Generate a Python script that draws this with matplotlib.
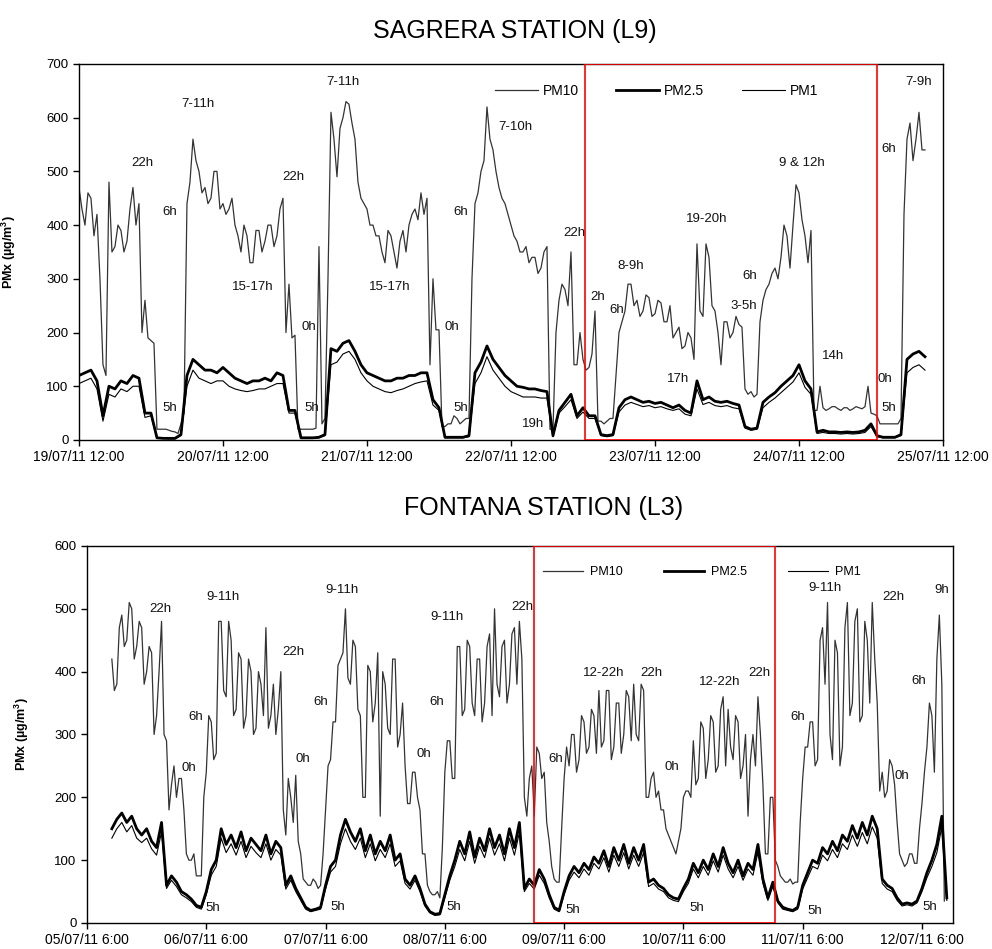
import numpy as np
import pandas as pd
import matplotlib
matplotlib.use('Agg')
import matplotlib.pyplot as plt
import matplotlib.dates as mdates
from matplotlib.lines import Line2D

plt.rcParams['font.family'] = ['Liberation Sans', 'DejaVu Sans']
plt.rcParams['mathtext.default'] = 'regular'

# ---- Sagrera station (L9), from 19/07/11 12:00 ----
sag_start = '2011-07-19 12:00'
# PM10 every 30 min
sag_pm10 = [470, 430, 400, 460, 450, 380, 420, 300, 140, 120, 480, 350,
            360, 400, 390, 350, 370, 430, 470, 400, 440, 200, 260, 190,
            185, 180, 20, 20, 20, 20, 18, 16, 15, 12, 30, 50,
            440, 480, 560, 520, 500, 460, 470, 440, 450, 500, 500, 430,
            440, 420, 430, 450, 400, 380, 350, 400, 380, 330, 330, 390,
            390, 350, 370, 400, 400, 360, 380, 430, 450, 200, 290, 190,
            195, 20, 20, 20, 20, 20, 20, 22, 360, 30, 40, 300,
            610, 560, 490, 580, 600, 630, 625, 590, 560, 480, 450, 440,
            430, 400, 400, 380, 380, 350, 330, 390, 380, 350, 320, 370,
            390, 350, 400, 420, 430, 410, 460, 420, 450, 140, 300, 205,
            205, 25, 25, 30, 30, 45, 40, 30, 35, 40, 40, 300,
            440, 460, 500, 520, 620, 560, 540, 500, 470, 450, 440, 420,
            400, 380, 370, 350, 350, 360, 330, 340, 340, 310, 320, 350,
            360, 20, 20, 200, 260, 290, 280, 250, 350, 140, 140, 200,
            150, 130, 135, 160, 240, 35, 35, 30, 35, 40, 40, 120,
            200, 220, 240, 290, 290, 250, 260, 230, 240, 270, 265, 230,
            235, 260, 255, 220, 220, 250, 190, 200, 210, 170, 175, 200,
            190, 150, 365, 240, 230, 365, 340, 250, 240, 200, 140, 220,
            220, 190, 200, 230, 215, 210, 95, 85, 90, 80, 85, 220,
            260, 280, 290, 310, 320, 300, 340, 400, 380, 320, 400, 475,
            460, 410, 380, 330, 390, 55, 55, 100, 60, 55, 58, 62,
            62, 58, 55, 60, 60, 55, 58, 62, 60, 58, 62, 100,
            50, 48, 45, 30, 30, 30, 30, 30, 30, 30, 40, 420,
            560, 590, 520, 560, 610, 540, 540]
# PM2.5 and PM1 hourly
sag_pm25 = [120, 125, 130, 110, 45, 100, 95, 110, 105, 120, 115, 50,
            50, 4, 3, 3, 3, 10, 120, 150, 140, 130, 130, 125,
            135, 125, 115, 110, 105, 110, 110, 115, 110, 125, 120, 55,
            55, 4, 4, 4, 5, 10, 170, 165, 180, 185, 165, 140,
            125, 120, 115, 110, 110, 115, 115, 120, 120, 125, 125, 75,
            60, 5, 5, 5, 5, 8, 125, 145, 175, 150, 135, 120,
            110, 100, 98, 95, 95, 92, 90, 8, 55, 70, 85, 45,
            60, 45, 45, 10, 8, 10, 60, 75, 80, 75, 70, 72,
            68, 70, 65, 60, 65, 55, 50, 110, 75, 80, 72, 70,
            72, 68, 65, 25, 20, 22, 70, 80, 88, 100, 110, 120,
            140, 110, 95, 15, 18, 15, 15, 14, 15, 14, 15, 18,
            30, 8, 5, 5, 5, 10, 150, 160, 165, 155]
sag_pm1 = [105, 110, 115, 95, 35, 85, 80, 95, 90, 100, 100, 42,
           45, 3, 3, 2, 2, 8, 100, 130, 115, 110, 105, 110,
           110, 100, 95, 92, 90, 92, 95, 95, 100, 105, 105, 50,
           50, 3, 3, 3, 4, 8, 140, 145, 160, 165, 150, 125,
           110, 100, 95, 90, 88, 92, 95, 100, 105, 108, 110, 65,
           55, 4, 4, 4, 4, 6, 105, 125, 155, 130, 115, 100,
           90, 85, 80, 80, 80, 78, 78, 6, 50, 62, 75, 40,
           52, 40, 40, 8, 6, 8, 52, 65, 70, 66, 62, 64,
           60, 62, 58, 55, 58, 48, 45, 95, 66, 70, 64, 62,
           64, 60, 58, 22, 18, 20, 60, 70, 78, 88, 98, 108,
           125, 98, 85, 12, 14, 12, 12, 11, 12, 11, 12, 14,
           25, 6, 4, 4, 4, 8, 125, 135, 140, 130]

# ---- Fontana station (L3), from 05/07/11 11:00 ----
fon_start = '2011-07-05 11:00'
# PM10 every 30 min
fon_pm10 = [420, 370, 380, 470, 490, 440, 450, 510, 500, 420, 440, 480,
            470, 380, 400, 440, 430, 300, 330, 400, 480, 300, 290, 180,
            220, 250, 200, 230, 230, 180, 110, 100, 100, 110, 75, 75,
            75, 200, 240, 330, 320, 260, 270, 480, 480, 370, 360, 480,
            450, 330, 340, 430, 420, 310, 330, 420, 400, 300, 310, 400,
            380, 330, 470, 310, 330, 380, 300, 340, 400, 180, 140, 230,
            200, 160, 235, 130, 110, 70, 65, 60, 60, 70, 65, 55,
            60, 110, 180, 250, 260, 320, 320, 410, 420, 430, 500, 390,
            380, 450, 440, 340, 330, 200, 200, 410, 400, 320, 350, 430,
            170, 400, 380, 310, 300, 420, 420, 280, 300, 350, 250, 190,
            190, 240, 240, 200, 180, 110, 110, 60, 50, 45, 45, 50,
            40, 120, 240, 290, 290, 230, 230, 440, 440, 330, 340, 450,
            440, 350, 330, 420, 420, 320, 350, 440, 460, 330, 500, 380,
            360, 440, 450, 350, 380, 460, 470, 380, 480, 420, 200, 170,
            230, 250, 170, 280, 270, 230, 240, 160, 130, 90, 70, 65,
            65, 150, 230, 280, 250, 300, 300, 240, 260, 330, 320, 270,
            280, 340, 330, 270, 370, 280, 290, 370, 370, 260, 280, 350,
            350, 270, 300, 370, 360, 290, 380, 300, 290, 380, 370, 200,
            200, 230, 240, 200, 210, 180, 180, 150, 140, 130, 120, 110,
            130, 150, 200, 210, 210, 200, 290, 220, 230, 320, 310, 230,
            260, 330, 320, 240, 250, 340, 360, 250, 340, 280, 260, 330,
            320, 230, 250, 300, 170, 260, 300, 250, 360, 300, 220, 110,
            110, 200, 200, 100, 90, 75, 70, 65, 65, 70, 62, 65,
            65, 160, 230, 280, 280, 320, 320, 250, 260, 450, 470, 380,
            510, 300, 260, 450, 430, 250, 280, 470, 510, 330, 350, 480,
            500, 320, 330, 480, 450, 350, 510, 420, 350, 210, 240, 200,
            210, 260, 250, 220, 160, 110, 100, 90, 95, 110, 110, 95,
            95, 150, 190, 240, 280, 350, 330, 240, 420, 490, 380, 35]
# PM2.5 and PM1 hourly
fon_pm25 = [150, 165, 175, 160, 170, 150, 140, 150, 130, 120, 160, 60,
            75, 65, 50, 45, 38, 28, 25, 50, 85, 100, 150, 125,
            140, 120, 145, 115, 135, 125, 115, 140, 110, 130, 120, 60,
            75, 55, 40, 25, 20, 22, 25, 60, 90, 100, 140, 165,
            145, 130, 150, 115, 140, 110, 130, 115, 140, 100, 110, 70,
            60, 75, 55, 30, 18, 14, 15, 45, 75, 100, 130, 110,
            145, 105, 135, 115, 150, 120, 140, 110, 150, 120, 160, 55,
            70, 60, 85, 70, 45, 25, 20, 50, 75, 90, 80, 95,
            85, 105, 95, 115, 90, 120, 100, 125, 95, 120, 100, 125,
            65, 70, 60, 55, 45, 40, 38, 55, 70, 95, 80, 100,
            85, 110, 90, 120, 95, 80, 100, 75, 95, 85, 125, 70,
            40, 65, 35, 25, 22, 20, 25, 60, 80, 100, 95, 120,
            110, 130, 115, 140, 130, 155, 135, 160, 140, 170, 150, 70,
            60, 55, 40, 30, 32, 30, 35, 55, 80, 100, 125, 170,
            40]
fon_pm1 = [135, 150, 160, 145, 155, 135, 128, 135, 118, 108, 145, 55,
           68, 58, 45, 40, 34, 25, 22, 45, 76, 90, 135, 112,
           126, 108, 130, 104, 122, 112, 104, 126, 100, 117, 108, 54,
           68, 50, 36, 22, 18, 20, 22, 54, 81, 90, 126, 150,
           130, 117, 135, 104, 126, 99, 117, 104, 126, 90, 99, 63,
           54, 68, 50, 27, 16, 12, 13, 40, 68, 90, 117, 99,
           130, 95, 122, 104, 135, 108, 126, 99, 135, 108, 144, 50,
           63, 54, 76, 63, 40, 22, 18, 45, 68, 81, 72, 86,
           76, 95, 86, 104, 81, 108, 90, 112, 86, 108, 90, 112,
           58, 63, 54, 50, 40, 36, 34, 50, 63, 86, 72, 90,
           76, 99, 81, 108, 86, 72, 90, 68, 86, 76, 112, 63,
           36, 58, 32, 22, 20, 18, 22, 54, 72, 90, 86, 108,
           99, 117, 104, 126, 117, 140, 122, 144, 126, 153, 135, 63,
           54, 50, 36, 27, 29, 27, 32, 50, 72, 90, 112, 153,
           36]

# hour labels: (text, hours after axis start, value)
sag_notes = [('22h', 10.5, 516), ('7-11h', 19.8, 626), ('6h', 15.2, 425), ('5h', 15.2, 60),
             ('22h', 35.7, 490), ('15-17h', 29.0, 285), ('0h', 38.3, 210), ('5h', 38.8, 60),
             ('7-11h', 44.0, 667), ('15-17h', 51.8, 285), ('0h', 62.2, 210), ('6h', 63.7, 425),
             ('5h', 63.7, 60), ('7-10h', 72.7, 583), ('22h', 82.5, 385), ('19h', 75.7, 30),
             ('2h', 86.5, 266), ('6h', 89.7, 242), ('8-9h', 92.0, 324), ('17h', 99.8, 114),
             ('19-20h', 104.7, 412), ('6h', 111.8, 305), ('3-5h', 110.8, 250),
             ('9 & 12h', 120.5, 516), ('14h', 125.7, 156), ('0h', 134.3, 114),
             ('5h', 135.0, 60), ('6h', 135.0, 542), ('7-9h', 140.0, 667)]
fon_notes = [('22h', 14.7, 500), ('9-11h', 27.4, 519), ('6h', 21.9, 328), ('0h', 20.5, 247),
             ('5h', 25.3, 24), ('22h', 41.6, 432), ('9-11h', 51.3, 530), ('6h', 47.1, 352),
             ('0h', 43.5, 261), ('5h', 50.5, 25), ('9-11h', 72.4, 487), ('6h', 70.4, 352),
             ('0h', 67.8, 269), ('5h', 73.8, 25), ('22h', 87.7, 503), ('6h', 94.4, 261),
             ('5h', 97.8, 21), ('12-22h', 104.0, 398), ('22h', 113.5, 398), ('0h', 117.7, 248),
             ('12-22h', 127.4, 384), ('22h', 135.2, 398), ('5h', 122.7, 24),
             ('9-11h', 148.5, 533), ('22h', 162.2, 519), ('9h', 172.0, 530),
             ('6h', 167.4, 385), ('6h', 143.0, 328), ('0h', 164.0, 234),
             ('5h', 146.5, 19), ('5h', 169.6, 25)]


def draw(ax, start, pm10, pm25, pm1, notes, t0):
    t10 = pd.date_range(start, periods=len(pm10), freq='30min')
    t = pd.date_range(start, periods=len(pm25), freq='h')
    ax.plot(t10, pm10, color='#333333', lw=0.9)
    ax.plot(t, pm25, color='black', lw=2.0)
    ax.plot(t, pm1, color='black', lw=0.8)
    t0 = pd.Timestamp(t0)
    for txt, h, v in notes:
        ax.text(t0 + pd.Timedelta(hours=h), v, txt, fontsize=9.5,
                ha='center', va='center', color='#111111')


fig = plt.figure(figsize=(9.92, 9.49), dpi=100)

# top panel
ax1 = fig.add_axes([0.0796, 0.5364, 0.871, 0.3962])
draw(ax1, sag_start, sag_pm10, sag_pm25, sag_pm1, sag_notes, '2011-07-19 12:00')
ax1.set_xlim(pd.Timestamp('2011-07-19 12:00'), pd.Timestamp('2011-07-25 12:00'))
ax1.set_ylim(0, 700)
ax1.set_yticks(np.arange(0, 701, 100))
ax1.set_xticks(pd.date_range('2011-07-19 12:00', '2011-07-25 12:00', freq='D'))
ax1.xaxis.set_major_formatter(mdates.DateFormatter('%d/%m/%y %H:%M'))
ax1.axvspan(pd.Timestamp('2011-07-23 00:20'), pd.Timestamp('2011-07-25 01:00'),
            fill=False, edgecolor='red', lw=1.2, zorder=5)
ax1.set_title('SAGRERA STATION (L9)', fontsize=18, pad=19, x=0.505)
ax1.yaxis.set_label_coords(-0.07, 0.5)

# bottom panel
ax2 = fig.add_axes([0.0877, 0.0274, 0.873, 0.3973])
draw(ax2, fon_start, fon_pm10, fon_pm25, fon_pm1, fon_notes, '2011-07-05 06:00')
ax2.set_xlim(pd.Timestamp('2011-07-05 06:00'), pd.Timestamp('2011-07-12 12:15'))
ax2.set_ylim(0, 600)
ax2.set_yticks(np.arange(0, 601, 100))
ax2.set_xticks(pd.date_range('2011-07-05 06:00', '2011-07-12 06:00', freq='D'))
ax2.xaxis.set_major_formatter(
    plt.FuncFormatter(lambda x, p: mdates.num2date(x).strftime('%d/%m/%y ')
                      + '%d:%02d' % (mdates.num2date(x).hour, mdates.num2date(x).minute)))
ax2.axvspan(pd.Timestamp('2011-07-09 00:00'), pd.Timestamp('2011-07-11 00:20'),
            fill=False, edgecolor='red', lw=1.2, zorder=5)
ax2.set_title('FONTANA STATION (L3)', fontsize=18, pad=22, x=0.527)
ax2.yaxis.set_label_coords(-0.065, 0.5)

handles = [Line2D([], [], color='#333333', lw=0.9),
           Line2D([], [], color='black', lw=2.0),
           Line2D([], [], color='black', lw=0.8)]
names = ['PM10', 'PM2.5', 'PM1']

ax1.legend(handles, names, ncol=3, loc='center left', bbox_to_anchor=(0.481, 0.928),
           frameon=False, fontsize=10, borderpad=0, borderaxespad=0,
           handlelength=3.1, handletextpad=0.36, columnspacing=2.7)
ax2.legend(handles, names, ncol=3, loc='center left', bbox_to_anchor=(0.527, 0.931),
           frameon=False, fontsize=9, borderpad=0, borderaxespad=0,
           handlelength=3.2, handletextpad=0.55, columnspacing=3.3)

for ax in (ax1, ax2):
    ax.set_ylabel('PMx (µg/m$^3$)', fontsize=9, fontweight='bold')
    ax.tick_params(direction='out', length=4, width=1)
    ax.tick_params(axis='x', labelsize=10)
    ax.tick_params(axis='y', labelsize=9.5)
    for s in ax.spines.values():
        s.set_linewidth(1.0)

fig.savefig('out.png', dpi=100)
